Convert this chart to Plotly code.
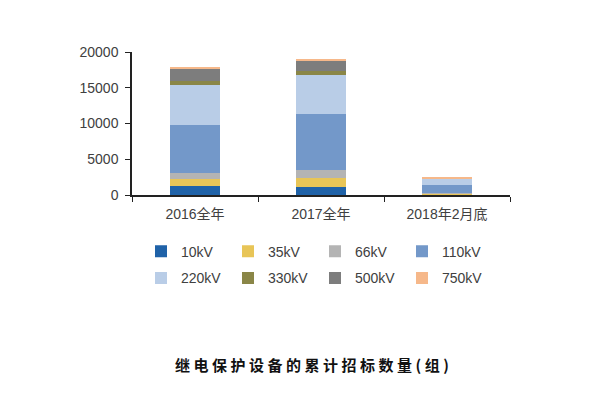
import plotly.graph_objects as go

categories = ["2016全年", "2017全年", "2018年2月底"]
series_names = ["10kV", "35kV", "66kV", "110kV", "220kV", "330kV", "500kV", "750kV"]
v10 = [1250, 1080, 40]
v35 = [950, 1360, 150]
v66 = [850, 1080, 60]
v110 = [6800, 7820, 1150]
v220 = [5480, 5430, 900]
v330 = [600, 560, 20]
v500 = [1830, 1450, 30]
v750 = [190, 280, 80]
series_values = [v10, v35, v66, v110, v220, v330, v500, v750]
colors = ["#1f62a8", "#e8c557", "#b4b4b4", "#7398c9", "#b9cde7", "#8a8647", "#7d7d7d", "#f6b88a"]
y_ticks = [0, 5000, 10000, 15000, 20000]
y_tick_labels = ["0", "5000", "10000", "15000", "20000"]
title_text = "继电保护设备的累计招标数量(组)"

FONT = "Liberation Sans, Arial, Noto Sans CJK SC, sans-serif"

fig = go.Figure()
for i, (name, vals, col) in enumerate(zip(series_names, series_values, colors)):
    fig.add_trace(go.Bar(
        x=categories, y=vals, name=name, marker=dict(color=col, line=dict(width=0)),
        width=0.4, legend="legend" if i < 4 else "legend2",
    ))

leg_common = dict(orientation="h", xref="container", x=0.235, xanchor="left",
                  yref="container", yanchor="top",
                  entrywidth=42, entrywidthmode="pixels", itemwidth=30,
                  font=dict(size=14, color="#404040"), traceorder="normal")

fig.update_layout(
    width=600, height=400,
    margin=dict(l=132, r=90, t=52, b=205),
    barmode="stack",
    plot_bgcolor="white", paper_bgcolor="white",
    font=dict(family=FONT, size=14, color="#404040"),
    xaxis=dict(
        type="category", showline=True, linecolor="#222", linewidth=1.5,
        ticks="outside", tickson="boundaries", ticklen=5, tickcolor="#222",
        tickfont=dict(size=14, color="#404040"), showgrid=False, automargin=False,
        ticklabelstandoff=5,
    ),
    yaxis=dict(
        range=[0, 20000], tickvals=y_ticks, ticktext=y_tick_labels,
        showline=True, linecolor="#222", linewidth=1.5,
        ticks="outside", ticklen=5, tickcolor="#222", showgrid=False, zeroline=False,
        tickfont=dict(size=14, color="#404040"), automargin=False, ticklabelstandoff=4,
    ),
    legend=dict(y=0.411, **leg_common),
    legend2=dict(y=0.344, **leg_common),
    showlegend=True,
    annotations=[dict(
        text='<span style="letter-spacing:3.5px">' + title_text + '</span>',
        xref="paper", yref="paper", x=0.479, y=-1.185, xanchor="center", yanchor="middle",
        showarrow=False, font=dict(family="Noto Sans CJK SC", size=15, color="#111", weight="bold"),
    )],
)

fig.write_html("out.html", config={"displayModeBar": False},
               post_script="document.body.style.margin='0';")
